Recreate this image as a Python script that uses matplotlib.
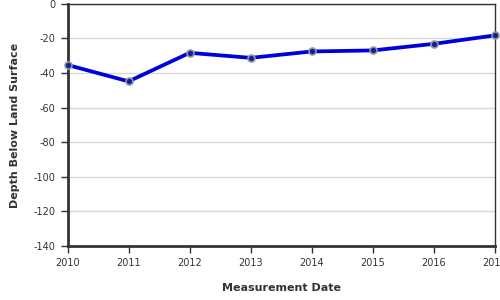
import matplotlib
matplotlib.use("Agg")
import matplotlib.pyplot as plt

years = [2010, 2011, 2012, 2013, 2014, 2015, 2016, 2017]
depth = [-35.3, -44.8, -28.3, -31.2, -27.5, -26.9, -23.1, -18.2]
yticks = [0, -20, -40, -60, -80, -100, -120, -140]

fig = plt.figure(figsize=(5, 3), dpi=100)
ax = fig.add_axes([0.135, 0.18, 0.855, 0.807])
ax.plot(years, depth, color="#0000dd", lw=2.7, zorder=3,
        marker="o", ms=5, mfc="#1a1aa0", mec="#8a9a9a", mew=1.2, clip_on=False)
ax.set_xlim(2010, 2017)
ax.set_ylim(-140, 0)
ax.set_yticks(yticks)
ax.set_yticklabels([str(v) for v in yticks])
ax.set_xticks(years)
ax.grid(axis="y", color="#d8d8d8", lw=1)
ax.set_axisbelow(True)
for s in ["left", "bottom"]:
    ax.spines[s].set_linewidth(2)
    ax.spines[s].set_color("#333333")
for s in ["top", "right"]:
    ax.spines[s].set_linewidth(1)
    ax.spines[s].set_color("#333333")
ax.tick_params(labelsize=7, colors="#333333", length=5, width=1)
ax.set_xlabel("Measurement Date", fontsize=8, fontweight="bold", color="#333333", labelpad=11)
ax.set_ylabel("Depth Below Land Surface", fontsize=8, fontweight="bold", color="#333333", labelpad=10)
fig.savefig("out.png", dpi=100)
